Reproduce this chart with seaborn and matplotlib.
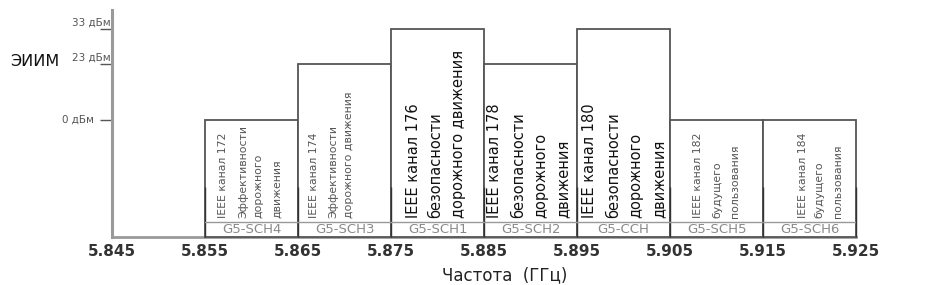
import numpy as np
import matplotlib
matplotlib.use('Agg')
import matplotlib.pyplot as plt
import seaborn as sns

# данные каналов
freq_start = [5.855, 5.865, 5.875, 5.885, 5.895, 5.905, 5.915]
channel_width = 0.01
eirp_dbm = [0, 23, 33, 23, 33, 0, 0]
sch_labels = ['G5-SCH4', 'G5-SCH3', 'G5-SCH1', 'G5-SCH2', 'G5-CCH', 'G5-SCH5', 'G5-SCH6']
box_texts = [
    ['IEEE канал 172', 'Эффективности', 'дорожного', 'движения'],
    ['IEEE канал 174', 'Эффективности', 'дорожного движения'],
    ['IEEE канал 176', 'безопасности', 'дорожного движения'],
    ['IEEE канал 178', 'безопасности', 'дорожного', 'движения'],
    ['IEEE канал 180', 'безопасности', 'дорожного', 'движения'],
    ['IEEE канал 182', 'будущего', 'пользования'],
    ['IEEE канал 184', 'будущего', 'пользования'],
]
x_ticks = [5.845, 5.855, 5.865, 5.875, 5.885, 5.895, 5.905, 5.915, 5.925]
y_levels = [0, 23, 33]
y_labels = ['0 дБм', '23 дБм', '33 дБм']

# оформление
col_pos = [[0.19, 0.41, 0.57, 0.77], [0.17, 0.38, 0.55], [0.24, 0.48, 0.73],
           [0.11, 0.37, 0.61, 0.85], [0.13, 0.39, 0.63, 0.88], [0.30, 0.51, 0.70],
           [0.43, 0.61, 0.81]]
big_text = [False, False, True, True, True, False, False]
floor_dbm = -50
# схематичная (нелинейная) шкала ЭИИМ
dbm_pts = [floor_dbm, 0, 23, 33, 45]
pos_pts = [0, 117, 173, 208, 227]

sns.set_theme(style='white')
plt.rcParams['font.family'] = ['DejaVu Sans']

fig = plt.figure(figsize=(9.36, 2.85), dpi=100)
ax = fig.add_axes([112 / 936, 48 / 285, 744 / 936, 227 / 285])

ax.set_yscale('function', functions=(lambda d: np.interp(d, dbm_pts, pos_pts),
                                     lambda p: np.interp(p, pos_pts, dbm_pts)))
ax.set_xlim(x_ticks[0], x_ticks[-1])
ax.set_ylim(floor_dbm, 45)

# прямоугольники каналов
ax.bar(freq_start, [e - floor_dbm for e in eirp_dbm], bottom=floor_dbm,
       width=channel_width, align='edge', facecolor='white', edgecolor='#555555',
       linewidth=1.3, zorder=3, clip_on=False)

# тёмные отметки на границах каналов
edges = freq_start + [freq_start[-1] + channel_width]
sns.rugplot(x=edges, height=0.22, lw=2.5, color='#333333', ax=ax,
            expand_margins=False, zorder=4, clip_on=False)

xt = ax.get_xaxis_transform()
for i, x0 in enumerate(freq_start):
    ax.plot([x0, x0 + channel_width], [0.066, 0.066], transform=xt,
            color='#999999', lw=1, zorder=4)
    ax.text(x0 + channel_width / 2, 0.033, sch_labels[i], transform=xt,
            ha='center', va='center', fontsize=9.5, color='#8a8a8a', zorder=5)
    for txt, p in zip(box_texts[i], col_pos[i]):
        ax.text(x0 + p * channel_width, 0.085, txt, transform=xt, rotation=90,
                ha='center', va='bottom',
                fontsize=10.5 if big_text[i] else 7.8,
                color='#111111' if big_text[i] else '#555555', zorder=5)

# ось Y
ax.set_yticks(y_levels, labels=[''] * len(y_levels))
ax.tick_params(axis='y', length=9, width=1, color='#555555', left=True)
yt = ax.get_yaxis_transform()
for lev, lab in zip(y_levels, y_labels):
    if lev == 0:
        ax.annotate(lab, xy=(0, lev), xycoords=yt, xytext=(-13, 0),
                    textcoords='offset points', ha='right', va='center',
                    fontsize=7.5, color='#555555')
    else:
        ax.annotate(lab, xy=(0, lev), xycoords=yt, xytext=(-1, 1),
                    textcoords='offset points', ha='right', va='bottom',
                    fontsize=7.5, color='#555555')

ax.set_xticks(x_ticks, labels=[f'{t:.3f}' for t in x_ticks])
ax.tick_params(axis='x', length=0, pad=5, labelsize=11, labelcolor='#333333')
for lab in ax.get_xticklabels():
    lab.set_fontweight('bold')

sns.despine(ax=ax)
ax.spines['left'].set_color('#9a9a9a')
ax.spines['left'].set_linewidth(2.2)
ax.spines['bottom'].set_color('#9a9a9a')
ax.spines['bottom'].set_linewidth(2)
ax.grid(False)

fig.text(10 / 936, 1 - 62 / 285, 'ЭИИМ', fontsize=11.5, va='center', color='#111111')
fig.text(505 / 936, 10 / 285, 'Частота  (ГГц)', fontsize=12, ha='center', va='center',
         color='#222222')

fig.savefig('out.png', dpi=100)
